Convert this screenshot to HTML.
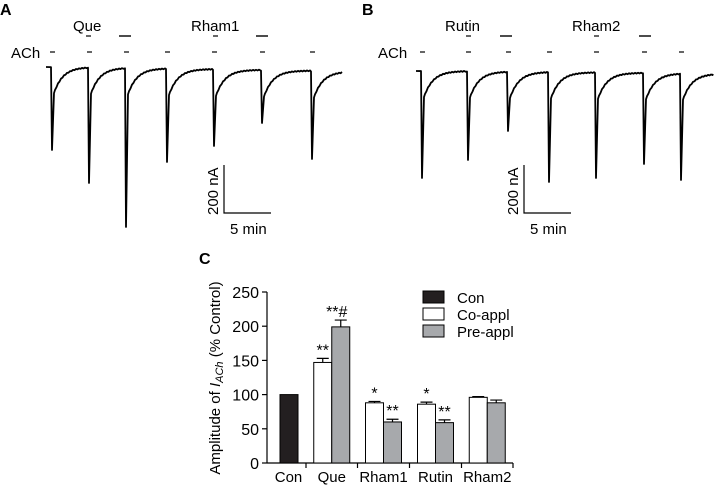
<!DOCTYPE html>
<html><head><meta charset="utf-8"><style>
body{margin:0;background:#fff;}
svg{display:block;font-family:"Liberation Sans",Arial,sans-serif;}
</style></head><body>
<svg id="fig" width="715" height="485" viewBox="0 0 715 485">
<text x="0" y="15" font-size="16" font-weight="bold">A</text>
<text x="362" y="15" font-size="16" font-weight="bold">B</text>
<text x="199" y="264" font-size="16" font-weight="bold">C</text>
<g id="traces"></g>
<g id="chart"></g>
</svg>
<script>
// ---- traces data ----
const traceA_x = [52, 89, 126, 167, 214, 262, 312];
const traceA_peak = [150, 183, 227, 162, 146, 123, 159];
const traceB_x = [422, 468, 508, 549, 596, 644, 681];
const traceB_peak = [178, 160, 131, 182, 178, 164, 180];
// ---- bar chart data ----
const categories = ["Con","Que","Rham1","Rutin","Rham2"];
const conValues = [100];
const coValues = [null,147,88,86,96];
const coErr = [null,6,2,3,1];
const preValues = [null,199,60,59,88];
const preErr = [null,10,4,4,4];
const yTicks = [0,50,100,150,200,250];
const NS="http://www.w3.org/2000/svg";
function mk(tag,attrs,parent){const e=document.createElementNS(NS,tag);for(const k in attrs)e.setAttribute(k,attrs[k]);parent.appendChild(e);return e;}
const tg=document.getElementById('traces');
function trace(xs,peaks,x0,x1,base0,base1,name){
  let d="M"+x0+","+base0;
  const bl=x=>base0+(base1-base0)*(x-x0)/(x1-x0);
  for(let i=0;i<xs.length;i++){
    const x=xs[i],b=bl(x);
    d+=" L"+(x-1)+","+b+" L"+x+","+peaks[i]+" L"+(x+2)+","+(b+26);
    const next=i<xs.length-1?xs[i+1]-1:x1;
    for(let t=3;x+t<next;t+=1.5){d+=" L"+(x+t)+","+(b+26*Math.exp(-(t-2)/9)+((Math.round(t)%3)?0.4:-0.4));}
  }
  d+=" L"+x1+","+base1;
  const p=mk('path',{d:d,fill:'none',stroke:'#000','stroke-width':1.8,'stroke-linejoin':'round'},tg);
  
  
}
trace(traceA_x,traceA_peak,46,342,67,72,'trace-a');
trace(traceB_x,traceB_peak,416,713,71,74,'trace-b');
function labels(xs,ach,lx,drugs,short,long,pre){
  const t=mk('text',{x:ach,y:58,'font-size':15},tg);t.textContent="ACh";
  
  xs.forEach(x=>{const l=mk('line',{x1:x-2,x2:x+3,y1:52,y2:52,stroke:'#000','stroke-width':1.2},tg);
    });
  short.forEach(x=>{const l=mk('line',{x1:x-2,x2:x+3,y1:36,y2:36,stroke:'#000','stroke-width':1.2},tg);
    });
  long.forEach(x=>{const l=mk('line',{x1:x,x2:x+12,y1:36,y2:36,stroke:'#000','stroke-width':1.4},tg);
    });
  drugs.forEach((s,i)=>{const t2=mk('text',{x:lx[i],y:31,'font-size':15},tg);t2.textContent=s;
    });
}
labels(traceA_x,11,[73,191],["Que","Rham1"],[88,215],[119,256],'panel-a');
labels(traceB_x,378,[445,572],["Rutin","Rham2"],[468,596],[500,639],'panel-b');
function scale(x,pre){
  const p=mk('path',{d:`M${x},165 L${x},213 L${x+47},213`,fill:'none',stroke:'#000','stroke-width':1.2},tg);
  
  const t=mk('text',{x:0,y:0,'font-size':15,transform:`translate(${x-6},215) rotate(-90)`},tg);t.textContent="200 nA";
  
  const t2=mk('text',{x:x+6,y:234,'font-size':15},tg);t2.textContent="5 min";
  
}
scale(224,'panel-a');scale(524,'panel-b');
// ---- chart ----
const cg=document.getElementById('chart');
const X0=267,X1=513,Y0=463,Y250=292;
const y=v=>Y0-(v/250)*(Y0-Y250);
const groupStart=[267,306,357.5,409.5,461.5];
const groupEnd=[306,357.5,409.5,461.5,513];
let ax=mk('line',{x1:X0,x2:X0,y1:Y250,y2:Y0,stroke:'#000','stroke-width':1.2},cg);

ax=mk('line',{x1:X0,x2:X1,y1:Y0,y2:Y0,stroke:'#000','stroke-width':1.2},cg);

yTicks.forEach(v=>{
  const l=mk('line',{x1:X0-5,x2:X0,y1:y(v),y2:y(v),stroke:'#000','stroke-width':1.2},cg);
  
  const t=mk('text',{x:X0-8,y:y(v)+6,'font-size':16,'text-anchor':'end'},cg);t.textContent=v;
  
});
groupEnd.forEach(x=>{const l=mk('line',{x1:x,x2:x,y1:Y0,y2:Y0+5,stroke:'#000','stroke-width':1.2},cg);
  });
categories.forEach((c,i)=>{
  const t=mk('text',{x:(groupStart[i]+groupEnd[i])/2+(i==0?2:0),y:482,'font-size':15,'text-anchor':'middle'},cg);t.textContent=c;
  
});
const yl=mk('text',{x:0,y:0,'font-size':15,'text-anchor':'middle',transform:'translate(220,378) rotate(-90)'},cg);
yl.innerHTML='Amplitude of <tspan font-style="italic">I</tspan><tspan font-size="11" font-style="italic" dy="3">ACh</tspan><tspan dy="-3"> (% Control)</tspan>';

const BW=18;
function bar(x,v,fill,name){const r=mk('rect',{x:x,y:y(v),width:BW,height:Y0-y(v),fill:fill,stroke:'#000','stroke-width':1},cg);
  }
function err(x,v,e,name){const p=mk('path',{d:`M${x+BW/2},${y(v)} L${x+BW/2},${y(v+e)} M${x+3},${y(v+e)} L${x+BW-3},${y(v+e)}`,stroke:'#000','stroke-width':1.2,fill:'none'},cg);
  }
bar(280,conValues[0],'#231f20','bar-con');
const sig=[null,["**","**#"],["*","**"],["*","**"],["",""]];
for(let i=1;i<categories.length;i++){
  const cx=(groupStart[i]+groupEnd[i])/2;
  const wx=cx-BW, gx=cx;
  bar(wx,coValues[i],'#fff','bar-co-'+categories[i].toLowerCase());
  err(wx,coValues[i],coErr[i],'error-co-'+categories[i].toLowerCase());
  bar(gx,preValues[i],'#a7a9ac','bar-pre-'+categories[i].toLowerCase());
  err(gx,preValues[i],preErr[i],'error-pre-'+categories[i].toLowerCase());
  if(sig[i][0]){const t=mk('text',{x:wx+BW/2,y:y(coValues[i]+coErr[i])-3,'font-size':16,'text-anchor':'middle'},cg);t.textContent=sig[i][0];
    }
  if(sig[i][1]){const t=mk('text',{x:gx+BW/2+(i==1?-4:0),y:y(preValues[i]+preErr[i])-3,'font-size':16,'text-anchor':'middle'},cg);t.textContent=sig[i][1];
    }
}
const leg=[["Con","#231f20"],["Co-appl","#fff"],["Pre-appl","#a7a9ac"]];
leg.forEach((l,i)=>{
  const r=mk('rect',{x:423,y:291+i*17,width:21,height:12,fill:l[1],stroke:'#000','stroke-width':1},cg);
  
  const t=mk('text',{x:457,y:303+i*17,'font-size':15},cg);t.textContent=l[0];
  
});
</script>
</body></html>
